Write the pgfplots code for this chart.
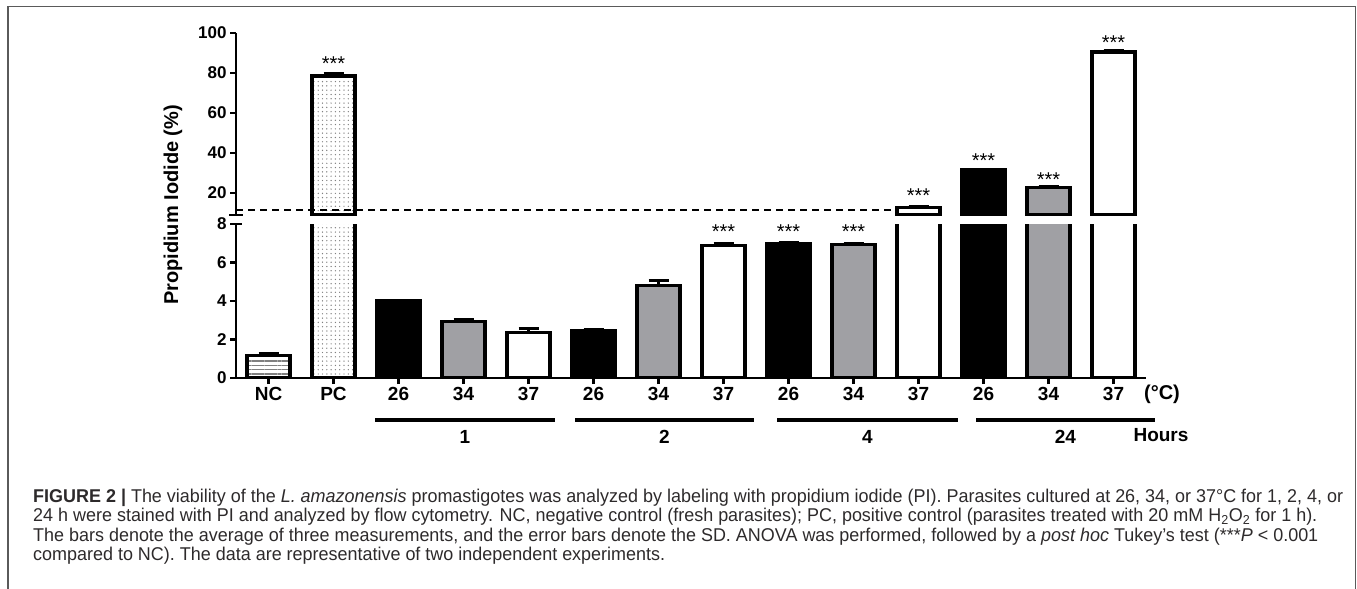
\documentclass[border=0pt]{standalone}
\usepackage{fontspec}
\setmainfont{Liberation Sans}
\usepackage{graphicx}
\usepackage{pgfplots}
\pgfplotsset{compat=1.18}
\usetikzlibrary{patterns.meta}

\definecolor{bargray}{RGB}{160,160,164}
\definecolor{framegray}{RGB}{90,90,90}
\definecolor{captext}{RGB}{45,42,43}

\newcommand\fsz[1]{\fontsize{#1bp}{#1bp}\selectfont}
\newlength\capw

% caption lines
\newcommand\capA{\textbf{FIGURE 2 |} The viability of the \textit{L. amazonensis} promastigotes was analyzed by labeling with propidium iodide (PI). Parasites cultured at 26, 34, or 37°C for 1, 2, 4, or}
\newcommand\capB{24 h were stained with PI and analyzed by flow cytometry. NC, negative control (fresh parasites); PC, positive control (parasites treated with 20 mM H\textsubscript{2}O\textsubscript{2} for 1 h).}
\newcommand\capC{The bars denote the average of three measurements, and the error bars denote the SD. ANOVA was performed, followed by a \textit{post hoc} Tukey's test (***\textit{P} < 0.001}
\newcommand\capD{compared to NC). The data are representative of two independent experiments.}

\pgfplotsset{
  panel/.style={
    scale only axis, width=910bp,
    xmin=-0.5, xmax=13.5, enlargelimits=false,
    axis y line*=left,
    tick align=outside, major tick length=6bp,
    tick style={black, line width=2.5bp},
    axis line style={black, line width=2.5bp},
    /pgf/number format/assume math mode=true,
    yticklabel style={font=\fsz{17}\bfseries},
  },
  bar/.style={ybar, bar width=0.66, bar shift=0pt, draw=black, line width=3.2bp},
  b26/.style={bar, fill=black},
  b34/.style={bar, fill=bargray},
  b37/.style={bar, fill=white},
  bnc/.style={bar, fill=white, postaction={pattern={Lines[angle=0,distance=4.3bp,line width=1.2bp]}, pattern color=gray}},
  bpc/.style={bar, fill=white, postaction={pattern={Dots[distance=4.3bp,radius=0.7bp]}, pattern color=gray}},
  err/.style={
    error bars/y dir=plus, error bars/y explicit, error bars/error mark=|,
    error bars/error bar style={black, line width=3bp},
    error bars/error mark options={black, line width=3bp, mark size=10bp}},
  stars/.style={draw=none, mark=none, nodes near coords={***},
    every node near coord/.style={anchor=center, yshift=-4.3bp, font=\fsz{20}, inner sep=0pt}},
}

\begin{document}
\settowidth{\capw}{\fsz{18.5}\capA}%
\pgfmathsetmacro\capsx{1314.9/\capw}%
\begin{tikzpicture}
\useasboundingbox (0,0) rectangle (1357bp,-589bp);

% frame
\draw[framegray, line width=1.5bp] (8bp,-589bp) -- (8bp,-6.5bp) -- (1355.5bp,-6.5bp) -- (1355.5bp,-589bp);

% lower segment 0-8
\begin{axis}[panel,
  at={(236bp,-378bp)}, anchor=south west, height=154bp,
  ymin=0, ymax=8, ytick={0,2,4,6,8},
  extra y ticks={8}, extra y tick labels={}, extra y tick style={tick align=inside},
  axis x line*=bottom,
  xtick={0,...,13},
  xticklabels={NC,PC,26,34,37,26,34,37,26,34,37,26,34,37},
  xticklabel style={font=\fsz{19}\bfseries},
]
\addplot[bnc, err] coordinates {(0,1.15) +- (0,0.13)};
\addplot[bpc] coordinates {(1,78.5)};
\addplot[b26, err] coordinates {(2,4.0) +- (0,0.04) (5,2.45) +- (0,0.08) (8,7.0) +- (0,0.03)};
\addplot[b26] coordinates {(11,31.5)};
\addplot[b34, err] coordinates {(3,2.95) +- (0,0.08) (6,4.8) +- (0,0.27) (9,6.93) +- (0,0.08)};
\addplot[b34] coordinates {(12,22.6)};
\addplot[b37, err] coordinates {(4,2.37) +- (0,0.22) (7,6.9) +- (0,0.1)};
\addplot[b37] coordinates {(10,12.8) (13,90.5)};
\addplot[stars] coordinates {(7,7.85) (8,7.85) (9,7.85)};
\end{axis}

% upper segment 9-100
\begin{axis}[panel,
  at={(236bp,-215bp)}, anchor=south west, height=182bp,
  ymin=9, ymax=100, ytick={20,40,60,80,100},
  axis x line=none, xtick=\empty,
]
\addplot[bpc, err] coordinates {(1,78.5) +- (0,1.5)};
\addplot[b37, err] coordinates {(10,12.8) +- (0,0.6) (13,90.5) +- (0,0.6)};
\addplot[b26, err] coordinates {(11,31.5) +- (0,0.3)};
\addplot[b34, err] coordinates {(12,22.6) +- (0,0.5)};
\addplot[black, line width=1.8bp, dash pattern=on 7bp off 5bp] coordinates {(-0.5,11.6) (9.63,11.6)};
\addplot[stars] coordinates {(1,86.8) (10,20.6) (11,38.2) (12,29.0) (13,97.3)};
\end{axis}

% axis break marks
\draw[line width=2.5bp] (229bp,-215bp) -- (243bp,-215bp);

% y label
\node[rotate=90, font=\fsz{20}\bfseries] at (173bp,-205bp) {Propidium Iodide (\%)};

% temperature unit and hour groups
\node[font=\fsz{20}\bfseries] at (1162bp,-394bp) {(°C)};
\foreach \a/\b/\t in {375/555/1, 575/754/2, 777/958/4, 976/1155/24}{
  \draw[line width=4bp] (\a bp,-420bp) -- (\b bp,-420bp);
  \node[font=\fsz{19}\bfseries] at ({(\a+\b)/2*1bp},-437bp) {\t};
}
\node[anchor=west, font=\fsz{19}\bfseries] at (1130bp,-435bp) {Hours};

% caption
\begin{scope}[every node/.style={anchor=base west, inner sep=0pt, text=captext}]
\node at (33bp,-502bp) {\scalebox{\capsx}[1]{\fsz{18.5}\capA}};
\node at (33bp,-521.5bp) {\scalebox{\capsx}[1]{\fsz{18.5}\capB}};
\node at (33bp,-541bp) {\scalebox{\capsx}[1]{\fsz{18.5}\capC}};
\node at (33bp,-560.5bp) {\scalebox{\capsx}[1]{\fsz{18.5}\capD}};
\end{scope}
\end{tikzpicture}
\end{document}
